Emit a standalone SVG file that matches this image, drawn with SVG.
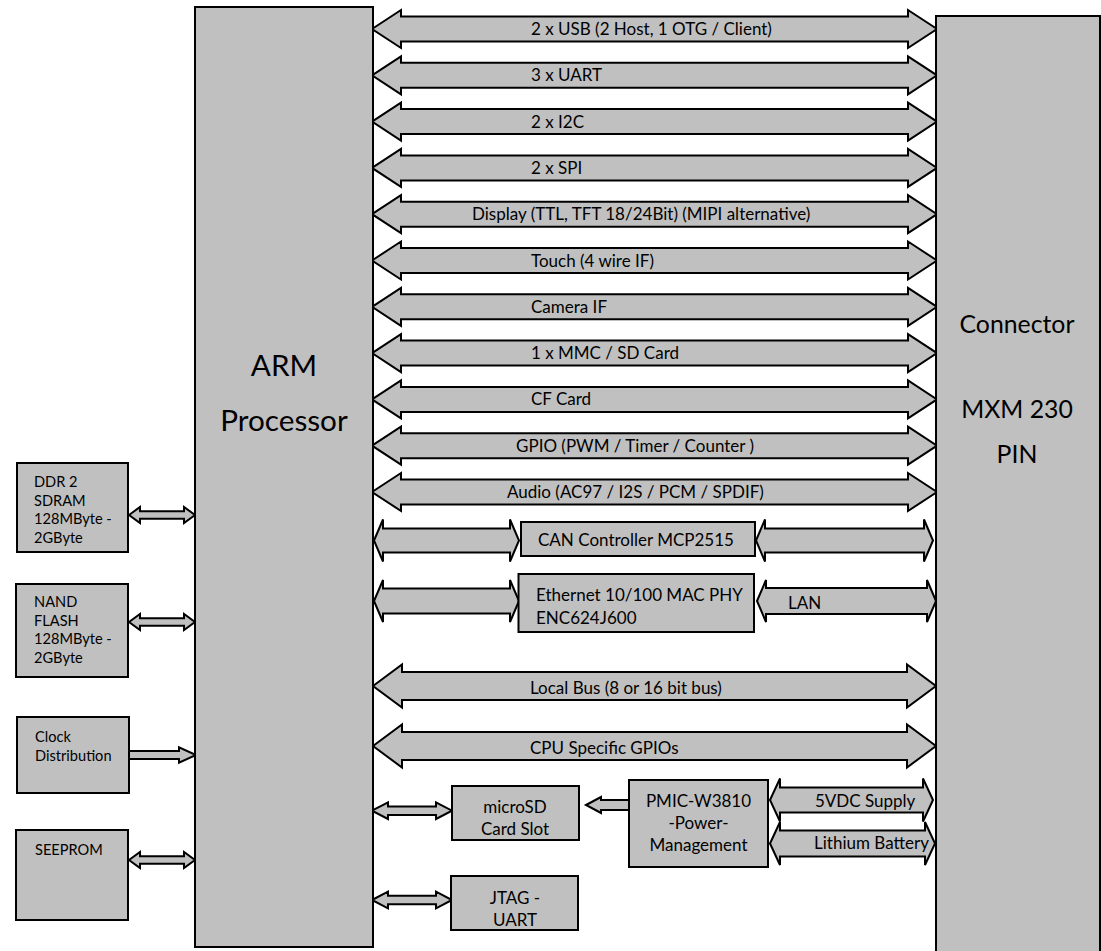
<svg xmlns="http://www.w3.org/2000/svg" width="1101" height="951" viewBox="0 0 1101 951">
<style>
.box{fill:#c0c0c0;stroke:#000;stroke-width:2}
.arr{fill:#c0c0c0;stroke:#000;stroke-width:2;stroke-linejoin:miter}
text{font-family:Lato,"Liberation Sans",sans-serif;fill:#000}
.lbl{font-size:17px}
.sm{font-size:14.6px}
.big{font-size:29.7px;text-anchor:middle}
.con{font-size:24.8px;text-anchor:middle}
.mid{text-anchor:middle}
</style>
<rect width="1101" height="951" fill="#fff"/>
<g id="connectors">
<polygon class="arr" points="372,29 401,10 401,16.5 908,16.5 908,10 937,29 908,48 908,41.5 401,41.5 401,48"/>
<polygon class="arr" points="372,75.3 401,56.3 401,62.8 908,62.8 908,56.3 937,75.3 908,94.3 908,87.8 401,87.8 401,94.3"/>
<polygon class="arr" points="372,121.6 401,102.6 401,109.1 908,109.1 908,102.6 937,121.6 908,140.6 908,134.1 401,134.1 401,140.6"/>
<polygon class="arr" points="372,167.9 401,148.9 401,155.4 908,155.4 908,148.9 937,167.9 908,186.9 908,180.4 401,180.4 401,186.9"/>
<polygon class="arr" points="372,214.2 401,195.2 401,201.7 908,201.7 908,195.2 937,214.2 908,233.2 908,226.7 401,226.7 401,233.2"/>
<polygon class="arr" points="372,260.5 401,241.5 401,248 908,248 908,241.5 937,260.5 908,279.5 908,273 401,273 401,279.5"/>
<polygon class="arr" points="372,306.8 401,287.8 401,294.3 908,294.3 908,287.8 937,306.8 908,325.8 908,319.3 401,319.3 401,325.8"/>
<polygon class="arr" points="372,353.1 401,334.1 401,340.6 908,340.6 908,334.1 937,353.1 908,372.1 908,365.6 401,365.6 401,372.1"/>
<polygon class="arr" points="372,399.4 401,380.4 401,386.9 908,386.9 908,380.4 937,399.4 908,418.4 908,411.9 401,411.9 401,418.4"/>
<polygon class="arr" points="372,445.7 401,426.7 401,433.2 908,433.2 908,426.7 937,445.7 908,464.7 908,458.2 401,458.2 401,464.7"/>
<polygon class="arr" points="372,492 401,473 401,479.5 908,479.5 908,473 937,492 908,511 908,504.5 401,504.5 401,511"/>
<polygon class="arr" points="374,540.5 383,519.5 383,528.5 510,528.5 510,519.5 519,540.5 510,561.5 510,552.5 383,552.5 383,561.5"/>
<polygon class="arr" points="756,540.5 765,519.5 765,528.5 924,528.5 924,519.5 933,540.5 924,561.5 924,552.5 765,552.5 765,561.5"/>
<polygon class="arr" points="374,601 383,580 383,588.5 510,588.5 510,580 519,601 510,622 510,613.5 383,613.5 383,622"/>
<polygon class="arr" points="757,601 766,580 766,588 927,588 927,580 936,601 927,622 927,614 766,614 766,622"/>
<polygon class="arr" points="373,686 402,664.5 402,672 907,672 907,664.5 936,686 907,707.5 907,700 402,700 402,707.5"/>
<polygon class="arr" points="373,746 402,724.5 402,732 907,732 907,724.5 936,746 907,767.5 907,760 402,760 402,767.5"/>
<polygon class="arr" points="129,515 140,507 140,511.3 184,511.3 184,507 195,515 184,523 184,518.7 140,518.7 140,523"/>
<polygon class="arr" points="129,622 140,614 140,618.3 184,618.3 184,614 195,622 184,630 184,625.7 140,625.7 140,630"/>
<polygon class="arr" points="129,751 179,751 179,747.3 196,755 179,762.7 179,759 129,759"/>
<polygon class="arr" points="129,860 140,852 140,856.3 184,856.3 184,852 195,860 184,868 184,863.7 140,863.7 140,868"/>
<polygon class="arr" points="372,810.7 388,802.4 388,806.5 436,806.5 436,802.4 452,810.7 436,819 436,815 388,815 388,819"/>
<polygon class="arr" points="372,900 388,891.7 388,895.8 436,895.8 436,891.7 452,900 436,908.3 436,904.2 388,904.2 388,908.3"/>
<polygon class="arr" points="586,805 601,797 601,800 629,800 629,810 601,810 601,813"/>
<polygon class="arr" points="770,800 780,778.5 780,787.5 923,787.5 923,778.5 933,800 923,821.5 923,812.5 780,812.5 780,821.5"/>
<polygon class="arr" points="770,843.5 780,822 780,830.5 925,830.5 925,822 935,843.5 925,865 925,856.5 780,856.5 780,865"/>
</g>
<g id="arm"><rect class="box" x="195" y="7" width="178" height="940"/><text class="big" x="284" y="376">ARM</text><text class="big" x="284" y="431">Processor</text></g>
<g id="connector"><rect class="box" x="936" y="16" width="164" height="945"/><text class="con" x="1017" y="333">Connector</text><text class="con" x="1017" y="418">MXM 230</text><text class="con" x="1017" y="463">PIN</text></g>
<g id="labels">
<text class="lbl" x="531" y="35">2 x USB (2 Host, 1 OTG / Client)</text>
<text class="lbl" x="531" y="81.3">3 x UART</text>
<text class="lbl" x="531" y="127.6">2 x I2C</text>
<text class="lbl" x="531" y="173.9">2 x SPI</text>
<text class="lbl" x="472" y="220.2">Display (TTL, TFT 18/24Bit) (MIPI alternative)</text>
<text class="lbl" x="531" y="266.5">Touch (4 wire IF)</text>
<text class="lbl" x="531" y="312.8">Camera IF</text>
<text class="lbl" x="531" y="359.1">1 x MMC / SD Card</text>
<text class="lbl" x="531" y="405.4">CF Card</text>
<text class="lbl" x="516" y="451.7">GPIO (PWM / Timer / Counter )</text>
<text class="lbl" x="507" y="498">Audio (AC97 / I2S / PCM / SPDIF)</text>
<text class="lbl" x="788" y="609">LAN</text>
<text class="lbl" x="530" y="694">Local Bus (8 or 16 bit bus)</text>
<text class="lbl" x="530" y="754">CPU Specific GPIOs</text>
<text class="lbl" x="815" y="807">5VDC Supply</text>
<text class="lbl" x="814" y="849">Lithium Battery</text>
</g>
<g id="can"><rect class="box" x="521" y="522" width="234" height="34"/><text class="lbl" x="538" y="546">CAN Controller MCP2515</text></g>
<g id="ethernet"><rect class="box" x="518.5" y="574" width="235.5" height="58"/><text class="lbl" x="536" y="601">Ethernet 10/100 MAC PHY</text><text class="lbl" x="536" y="624">ENC624J600</text></g>
<g id="ddr"><rect class="box" x="17" y="463" width="111" height="89"/><text class="sm" x="34" y="487">DDR 2</text><text class="sm" x="34" y="505.7">SDRAM</text><text class="sm" x="34" y="524.3">128MByte -</text><text class="sm" x="34" y="543">2GByte</text></g>
<g id="nand"><rect class="box" x="16" y="584" width="112" height="93"/><text class="sm" x="34" y="607">NAND</text><text class="sm" x="34" y="625.7">FLASH</text><text class="sm" x="34" y="644.3">128MByte -</text><text class="sm" x="34" y="663">2GByte</text></g>
<g id="clock"><rect class="box" x="17" y="717" width="112" height="76"/><text class="sm" x="35" y="742">Clock</text><text class="sm" x="35" y="760.5">Distribution</text></g>
<g id="seeprom"><rect class="box" x="16" y="830" width="112" height="90"/><text class="sm" x="35" y="855">SEEPROM</text></g>
<g id="microsd"><rect class="box" x="452" y="786" width="127" height="54"/><text class="lbl mid" x="515" y="813">microSD</text><text class="lbl mid" x="515" y="835">Card Slot</text></g>
<g id="jtag"><rect class="box" x="451" y="876" width="127" height="54"/><text class="lbl mid" x="515" y="904">JTAG -</text><text class="lbl mid" x="515" y="926">UART</text></g>
<g id="pmic"><rect class="box" x="629" y="780" width="139" height="87"/><text class="lbl mid" x="698.5" y="806.5">PMIC-W3810</text><text class="lbl mid" x="698.5" y="828.5">-Power-</text><text class="lbl mid" x="698.5" y="850.5">Management</text></g>
</svg>
